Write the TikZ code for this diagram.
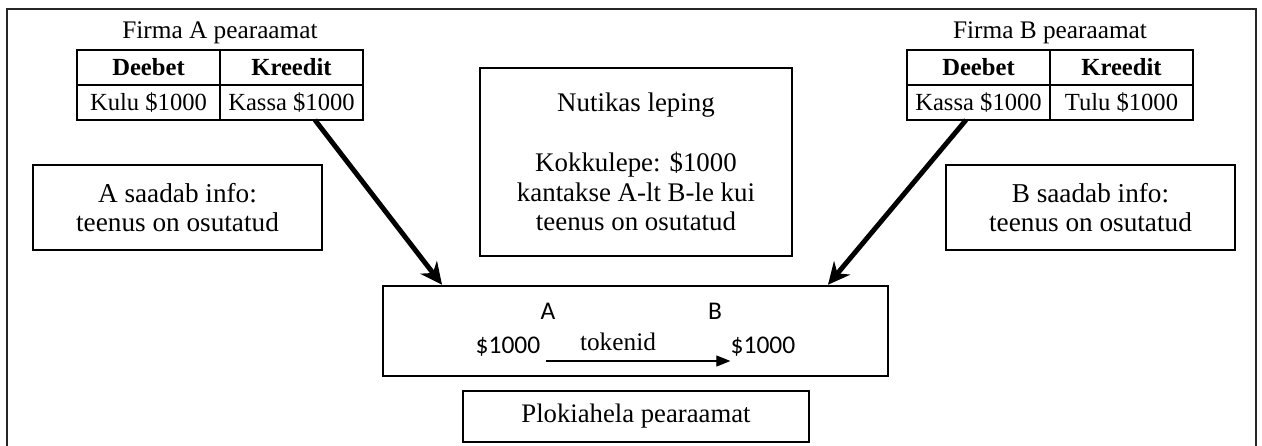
\documentclass[tikz,border=0pt]{standalone}
\usepackage{fontspec}
\setmainfont{Liberation Serif}
\newfontfamily\calfont{Carlito}
\usetikzlibrary{positioning,arrows.meta}

\tikzstyle{cell}     = [rectangle, draw, line width=0.85pt, minimum width=2.86cm, minimum height=0.7cm, inner sep=0pt, outer sep=0pt, text centered, font=\fontsize{14}{17}\selectfont]
\tikzstyle{head}     = [cell, font=\fontsize{14}{17}\selectfont\bfseries]
\tikzstyle{title}    = [inner sep=0pt, anchor=base, font=\fontsize{14.4}{17}\selectfont]
\tikzstyle{infobox}  = [rectangle, draw, line width=0.85pt, minimum width=5.78cm, minimum height=1.7cm, align=center, font=\fontsize{15.5}{17}\selectfont]
\tikzstyle{contract} = [rectangle, draw, line width=1.4pt, minimum width=6.24cm, minimum height=3.76cm, align=center, font=\fontsize{15.3}{17}\selectfont]
\tikzstyle{ledger}   = [rectangle, draw, line width=1.4pt, minimum width=10.1cm, minimum height=1.8cm]
\tikzstyle{caption}  = [rectangle, draw, line width=0.85pt, minimum width=6.92cm, minimum height=1.02cm, font=\fontsize{15.2}{17}\selectfont]
\tikzstyle{sanstxt}  = [inner sep=0pt, anchor=base, font=\fontsize{14.5}{17}\calfont]
\tikzstyle{bigarrow} = [line width=2.8pt, -{Stealth[length=0.44cm, width=0.42cm]}]
\tikzstyle{arrow}    = [line width=0.6pt, -{Triangle[length=0.28cm, width=0.22cm]}]

\begin{document}
\begin{tikzpicture}[x=0.02cm, y=-0.02cm]
\useasboundingbox (0,0) rectangle (1262,446);
\draw [line width=1.1pt, black!85] (7,446) -- (7,9) -- (1256,9) -- (1256,446);

% firma A
\node (titleA) [title] at (220,39) {Firma A pearaamat};
\node (aDeb)   [head] at (148.5,67.5) {Deebet};
\node (aKred)  [head, right=0pt of aDeb] {Kreedit};
\node (aKulu)  [cell, below=0pt of aDeb] {Kulu \$1000};
\node (aKassa) [cell, below=0pt of aKred] {Kassa \$1000};
\node (infoA)  [infobox] at (177.5,207.5) {A saadab info:\\teenus on osutatud};

% firma B
\node (titleB) [title] at (1050,39) {Firma B pearaamat};
\node (bDeb)   [head] at (978.5,67.5) {Deebet};
\node (bKred)  [head, right=0pt of bDeb] {Kreedit};
\node (bKassa) [cell, below=0pt of bDeb] {Kassa \$1000};
\node (bTulu)  [cell, below=0pt of bKred] {Tulu \$1000};
\node (infoB)  [infobox] at (1090.5,207.5) {B saadab info:\\teenus on osutatud};

% nutikas leping
\node (deal) [contract] at (636,162) {Nutikas leping\\[17pt]Kokkulepe: \$1000\\kantakse A-lt B-le kui\\teenus on osutatud};

% plokiahel
\node (chain) [ledger] at (635.5,331) {};
\node (partyA) [sanstxt] at (548,319) {A};
\node (partyB) [sanstxt] at (715,319) {B};
\node (amtA)   [sanstxt] at (508,353) {\$1000};
\node (amtB)   [sanstxt] at (763,353) {\$1000};
\node (tok)    [title] at (618,350) {tokenid};
\node (chainname) [caption] at (636,416.5) {Plokiahela pearaamat};

\draw [bigarrow] ([xshift=0.47cm]aKassa.south) -- ([xshift=-3.87cm]chain.north);
\draw [bigarrow] ([xshift=-0.25cm]bKassa.south) -- ([xshift=3.85cm]chain.north);
\draw [arrow] ([shift={(5,8)}]amtA.base east) -- ([shift={(0,8)}]amtB.base west);
\end{tikzpicture}
\end{document}
